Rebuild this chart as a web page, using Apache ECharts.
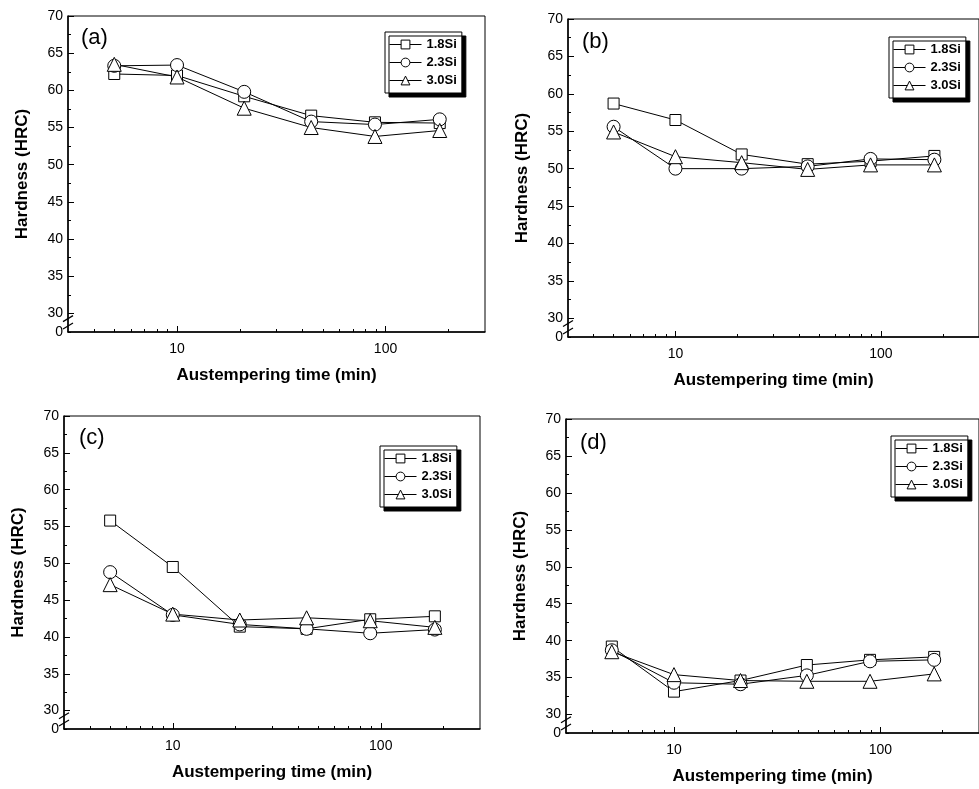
<!DOCTYPE html>
<html>
<head>
<meta charset="utf-8">
<script src="https://cdn.jsdelivr.net/npm/echarts@6/dist/echarts.min.js"></script>
<style>
html,body{margin:0;padding:0;background:#fff}
#main{width:979px;height:789px}
</style>
</head>
<body>
<div id="main"></div>
<script>
// austempering times (min), shared by all panels
var times = [5, 10, 21, 44, 89, 182];
var seriesNames = ['1.8Si', '2.3Si', '3.0Si'];
var panelLabels = ['(a)', '(b)', '(c)', '(d)'];

// hardness (HRC) per panel
var a_18 = [62.2, 62.0, 59.2, 56.6, 55.7, 55.6];
var a_23 = [63.3, 63.4, 59.8, 55.8, 55.4, 56.1];
var a_30 = [63.5, 61.8, 57.6, 55.0, 53.8, 54.6];

var b_18 = [58.7, 56.5, 51.9, 50.6, 51.0, 51.7];
var b_23 = [55.6, 50.0, 50.0, 50.3, 51.3, 51.2];
var b_30 = [54.9, 51.6, 50.8, 49.9, 50.5, 50.5];

var c_18 = [55.8, 49.5, 41.4, 41.1, 42.4, 42.8];
var c_23 = [48.8, 43.0, 41.7, 41.1, 40.5, 41.0];
var c_30 = [47.1, 43.1, 42.3, 42.6, 42.2, 41.3];

var d_18 = [39.2, 33.1, 34.6, 36.7, 37.4, 37.8];
var d_23 = [38.7, 34.3, 34.1, 35.3, 37.2, 37.4];
var d_30 = [38.5, 35.4, 34.6, 34.5, 34.5, 35.5];

var panelData = [
    [a_18, a_23, a_30],
    [b_18, b_23, b_30],
    [c_18, c_23, c_30],
    [d_18, d_23, d_30]
];

// axis ticks
var yLabelTicks = [27.5, 30, 35, 40, 45, 50, 55, 60, 65, 70]; // 27.5 is shown as the broken "0"
var xLabelTicks = [10, 100];
var xMinorTicks = [4, 5, 6, 7, 8, 9, 20, 30, 40, 50, 60, 70, 80, 90, 200];

var symbols = ['rect', 'circle', 'triangle'];
var symbolSizes = [11, 13, 14];

var grids = [
    {left: 68, top: 16, width: 417, height: 316},
    {left: 568, top: 19, width: 422, height: 318},
    {left: 64, top: 416, width: 416, height: 313},
    {left: 566, top: 419, width: 424, height: 314}
];
var legendPos = [
    {left: 385, top: 32},
    {left: 889, top: 37},
    {left: 380, top: 446},
    {left: 891, top: 436}
];
var titlePos = [
    {left: 81, top: 27},
    {left: 582, top: 31},
    {left: 79, top: 427},
    {left: 580, top: 432}
];

var font = "'Liberation Sans', Arial, sans-serif";

var myChart = echarts.init(document.getElementById('main'));

var xAxis = [], yAxis = [], series = [], legend = [], title = [];
for (var p = 0; p < 4; p++) {
    // main x axis (labels, long ticks)
    xAxis.push({
        type: 'log', logBase: 10, gridIndex: p, position: 'bottom',
        min: 3, max: 300,
        name: 'Austempering time (min)', nameLocation: 'middle', nameGap: 35,
        nameTextStyle: {fontFamily: font, fontSize: 17, fontWeight: 'bold', color: '#000'},
        axisLine: {lineStyle: {color: '#000', width: 1.5}},
        axisTick: {inside: true, length: 6, customValues: xLabelTicks, lineStyle: {color: '#000'}},
        axisLabel: {customValues: xLabelTicks, margin: 10, fontFamily: font, fontSize: 14, color: '#000'},
        splitLine: {show: false}
    });
    // minor x ticks
    xAxis.push({
        type: 'log', logBase: 10, gridIndex: p, position: 'bottom',
        min: 3, max: 300,
        axisLine: {show: false},
        axisTick: {inside: true, length: 3, customValues: xMinorTicks, lineStyle: {color: '#000'}},
        axisLabel: {show: false},
        splitLine: {show: false}
    });
    yAxis.push({
        type: 'value', gridIndex: p, position: 'left',
        min: 27.5, max: 70,
        name: 'Hardness (HRC)', nameLocation: 'middle', nameGap: 37,
        nameTextStyle: {fontFamily: font, fontSize: 17, fontWeight: 'bold', color: '#000'},
        axisLine: {show: true, lineStyle: {color: '#000', width: 1.5}},
        axisTick: {show: true, inside: true, length: 6, customValues: yLabelTicks.slice(1), lineStyle: {color: '#000'}},
        axisLabel: {
            customValues: yLabelTicks, margin: 5, fontFamily: font, fontSize: 14, color: '#000',
            formatter: function (v) { return v === 27.5 ? '0' : String(v); }
        },
        splitLine: {show: false}
    });
    yAxis.push({
        type: 'value', gridIndex: p, position: 'left',
        min: 27.5, max: 70, interval: 2.5,
        axisLine: {show: false},
        axisTick: {show: true, inside: true, length: 3, lineStyle: {color: '#000'}},
        axisLabel: {show: false},
        splitLine: {show: false}
    });
    for (var s = 0; s < 3; s++) {
        var vals = panelData[p][s];
        series.push({
            name: seriesNames[s],
            type: 'line',
            xAxisIndex: p * 2,
            yAxisIndex: p * 2,
            data: times.map(function (t, i) { return [t, vals[i]]; }),
            symbol: symbols[s],
            symbolSize: symbolSizes[s],
            showAllSymbol: true,
            lineStyle: {color: '#000', width: 1},
            itemStyle: {color: '#fff', borderColor: '#000', borderWidth: 1},
            emphasis: {disabled: true},
            animation: false
        });
    }
    legend.push({
        data: seriesNames,
        orient: 'vertical',
        left: legendPos[p].left, top: legendPos[p].top,
        backgroundColor: '#fff',
        borderColor: '#000', borderWidth: 1,
        shadowColor: '#000', shadowBlur: 0, shadowOffsetX: 4, shadowOffsetY: 4,
        padding: [6, 5, 6, 4],
        itemWidth: 32, itemHeight: 11, itemGap: 5,
        itemStyle: {borderWidth: 1},
        lineStyle: {width: 1},
        textStyle: {fontFamily: font, fontSize: 13, fontWeight: 'bold', color: '#000'},
        selectedMode: false
    });
    title.push({
        text: panelLabels[p],
        left: titlePos[p].left, top: titlePos[p].top,
        padding: 0,
        textStyle: {fontFamily: font, fontSize: 22, fontWeight: 'normal', color: '#000'}
    });
}

option = {
    backgroundColor: '#fff',
    animation: false,
    title: title,
    legend: legend,
    grid: grids.map(function (g) {
        return {left: g.left, top: g.top, width: g.width, height: g.height,
            show: true, borderColor: '#000', borderWidth: 1, backgroundColor: 'transparent'};
    }),
    xAxis: xAxis,
    yAxis: yAxis,
    series: series
};
myChart.setOption(option);

// axis break marks "//" between 30 and 0 on each y axis
var breaks = [];
for (var p = 0; p < 4; p++) {
    [29.3, 28.3].forEach(function (v) {
        var pt = myChart.convertToPixel({xAxisIndex: p * 2, yAxisIndex: p * 2}, [3, v]);
        breaks.push({
            type: 'line',
            shape: {x1: pt[0] - 5, y1: pt[1] + 3, x2: pt[0] + 5, y2: pt[1] - 3},
            style: {stroke: '#000', lineWidth: 1.2},
            z: 100
        });
    });
}
myChart.setOption({graphic: breaks});
</script>
</body>
</html>
